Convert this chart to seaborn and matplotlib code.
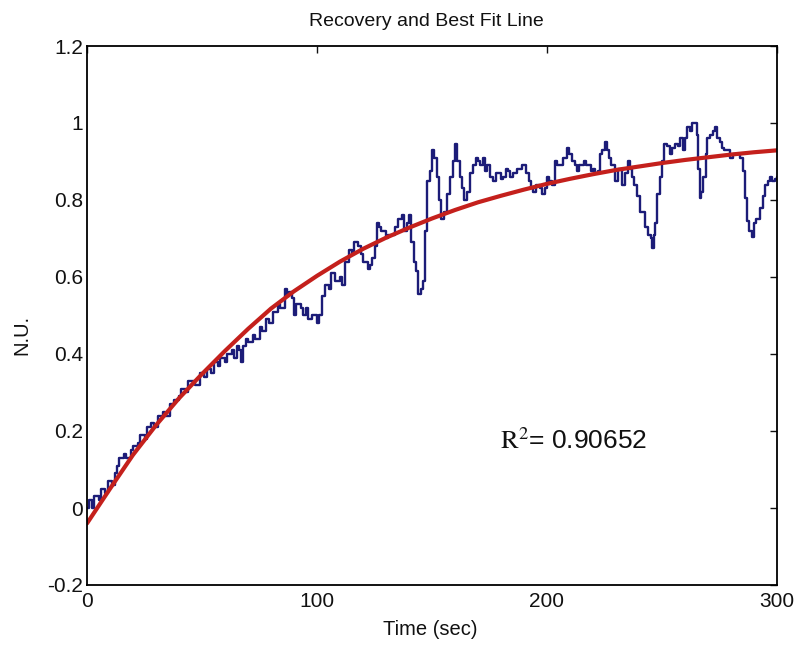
import matplotlib
matplotlib.use("Agg")
import matplotlib.pyplot as plt
import seaborn as sns
import pandas as pd

# ---- data ----
rec_t = [0, 1, 2, 3, 5, 6, 8, 9, 11, 12, 13, 14, 16, 17, 19, 20, 22, 23, 25, 26, 28, 29, 31, 33, 34, 36, 38, 40,
         41, 43, 44, 46, 47, 49, 51, 52, 54, 55, 57, 58, 60, 61, 63, 64, 65, 66, 67, 68, 69, 70, 72, 73, 75, 76,
         78, 79, 81, 83, 84, 86, 87, 88, 89, 90, 91, 93, 94, 95, 96, 98, 100, 101, 102, 103.5, 105, 106, 108, 110,
         111, 112, 114, 115, 116, 118, 119, 120, 122, 123, 124, 125, 126, 127, 128, 130, 131, 133, 134, 135, 137,
         138, 139, 140, 141, 142, 143, 144, 145, 146, 147, 148, 149, 150, 151, 152, 153, 154, 155, 156.5, 158, 159,
         160, 161, 162, 163, 164, 165, 166.5, 168, 169, 170, 171, 172, 173, 174, 175, 176.5, 178, 179, 180, 181,
         182, 183, 184, 185, 187, 188, 189, 190, 191, 192, 193, 194, 195, 196, 197, 198, 199, 200, 201, 202, 203.5,
         204.5, 205.5, 207, 208.5, 209.5, 211, 212, 213, 214, 216, 217, 218, 219, 220, 221, 222, 223, 224, 225, 226,
         227, 228, 229.5, 231, 232.5, 234, 235, 236, 237, 238, 239, 240.5, 242.6, 244, 245, 245.6, 246.5, 247, 248,
         249, 250, 251, 252, 253.5, 254.5, 255.7, 257, 258, 259, 260, 261, 262, 263, 264, 265, 265.8, 266.5, 267,
         268, 269, 269.5, 271, 272, 273, 274, 275, 276, 277, 278, 279.5, 281, 282.6, 284, 285, 286, 287, 288, 289,
         290, 291, 292.6, 294, 294.8, 296, 297, 298, 299, 300]
rec_nu = [0.00, 0.02, 0.00, 0.03, 0.02, 0.05, 0.04, 0.07, 0.06, 0.09, 0.11, 0.13, 0.14, 0.13, 0.15, 0.16, 0.17,
          0.19, 0.18, 0.21, 0.22, 0.21, 0.24, 0.25, 0.24, 0.27, 0.28, 0.29, 0.31, 0.30, 0.33, 0.33, 0.32, 0.35,
          0.34, 0.36, 0.35, 0.38, 0.37, 0.39, 0.38, 0.40, 0.41, 0.39, 0.42, 0.41, 0.38, 0.42, 0.44, 0.43, 0.45,
          0.44, 0.47, 0.46, 0.49, 0.48, 0.51, 0.53, 0.52, 0.57, 0.55, 0.56, 0.545, 0.50, 0.53, 0.52, 0.50, 0.52,
          0.49, 0.50, 0.48, 0.50, 0.55, 0.58, 0.57, 0.61, 0.59, 0.60, 0.58, 0.64, 0.67, 0.66, 0.69, 0.68, 0.66,
          0.64, 0.62, 0.63, 0.65, 0.68, 0.74, 0.73, 0.72, 0.70, 0.71, 0.71, 0.73, 0.75, 0.76, 0.72, 0.74, 0.76,
          0.69, 0.64, 0.615, 0.555, 0.57, 0.59, 0.72, 0.85, 0.875, 0.93, 0.91, 0.86, 0.80, 0.75, 0.77, 0.815, 0.86,
          0.90, 0.945, 0.90, 0.86, 0.83, 0.80, 0.82, 0.87, 0.89, 0.91, 0.90, 0.89, 0.91, 0.875, 0.89, 0.86, 0.85,
          0.87, 0.87, 0.855, 0.86, 0.88, 0.875, 0.86, 0.87, 0.88, 0.88, 0.89, 0.89, 0.87, 0.85, 0.83, 0.82, 0.84,
          0.84, 0.83, 0.815, 0.83, 0.86, 0.85, 0.84, 0.90, 0.89, 0.89, 0.91, 0.935, 0.92, 0.90, 0.89, 0.875, 0.89,
          0.90, 0.89, 0.89, 0.875, 0.88, 0.87, 0.875, 0.92, 0.93, 0.95, 0.93, 0.91, 0.89, 0.85, 0.88, 0.84, 0.87,
          0.90, 0.88, 0.86, 0.84, 0.81, 0.77, 0.73, 0.71, 0.70, 0.675, 0.71, 0.74, 0.815, 0.86, 0.90, 0.945, 0.94,
          0.92, 0.935, 0.945, 0.94, 0.96, 0.93, 0.96, 0.99, 0.98, 1.00, 1.00, 0.97, 0.88, 0.805, 0.82, 0.86, 0.92,
          0.96, 0.97, 0.98, 0.99, 0.96, 0.95, 0.935, 0.93, 0.93, 0.91, 0.92, 0.92, 0.91, 0.875, 0.805, 0.745, 0.72,
          0.705, 0.74, 0.75, 0.78, 0.81, 0.84, 0.85, 0.86, 0.85, 0.855, 0.86]

fit_t = [0, 10, 20, 30, 40, 50, 60, 70, 80, 90, 100, 110, 120, 130, 140, 150, 160, 170, 180, 190, 200,
         210, 220, 230, 240, 250, 260, 270, 280, 290, 300]
fit_nu = [-0.040, 0.050, 0.138, 0.215, 0.285, 0.348, 0.408, 0.465, 0.518, 0.563, 0.603, 0.640, 0.673, 0.702,
          0.728, 0.752, 0.774, 0.794, 0.811, 0.827, 0.842, 0.855, 0.867, 0.878, 0.887, 0.896, 0.904, 0.911,
          0.918, 0.924, 0.929]

x_ticks = [0, 100, 200, 300]
y_ticks = [-0.2, 0, 0.2, 0.4, 0.6, 0.8, 1.0, 1.2]
y_tick_labels = ["-0.2", "0", "0.2", "0.4", "0.6", "0.8", "1", "1.2"]
r2_text = "0.90652"

# ---- drawing ----
sns.set_style("white")
plt.rcParams["font.family"] = ["Liberation Sans", "DejaVu Sans"]
plt.rcParams["mathtext.fontset"] = "stix"

fig = plt.figure(figsize=(7.94, 6.45), dpi=100)
ax = fig.add_axes([87 / 794, 1 - 585 / 645, 690 / 794, 539 / 645])

rec_df = pd.DataFrame({"t": rec_t, "nu": rec_nu})
fit_df = pd.DataFrame({"t": fit_t, "nu": fit_nu})

sns.lineplot(data=rec_df, x="t", y="nu", ax=ax, color="#1c1c78", linewidth=1.7,
             estimator=None, sort=True, drawstyle="steps-post")
sns.lineplot(data=fit_df, x="t", y="nu", ax=ax, color="#c4201c", linewidth=3.0,
             estimator=None, sort=True)

ax.set_xlim(0, 300)
ax.set_ylim(-0.2, 1.2)
ax.set_xticks(x_ticks)
ax.set_xticklabels([str(v) for v in x_ticks])
ax.set_yticks(y_ticks)
ax.set_yticklabels(y_tick_labels)
ax.tick_params(direction="in", length=5, width=1, top=True, right=True,
               labelsize=15, colors="#111111")
ax.tick_params(axis="x", pad=5)
ax.tick_params(axis="y", pad=3)
for s in ax.spines.values():
    s.set_visible(True)
    s.set_color("black")
    s.set_linewidth(1.3)

ax.set_xlabel("Time (sec)", fontsize=14.5, color="#111111")
ax.xaxis.set_label_coords((430 - 87) / 690, (585 - 620) / 539)
ax.set_ylabel("N.U.", fontsize=14.5, color="#111111")
ax.yaxis.set_label_coords((31 - 87) / 690, (585 - 335) / 539)

ax.text((426 - 87) / 690, (585 - 22) / 539, "Recovery and Best Fit Line", transform=ax.transAxes,
        fontsize=14, ha="center", va="center", color="#111111")

ax.text(179.5, 0.174, r"$\mathrm{R}^{2}$= " + r2_text, fontsize=19, color="#111111",
        va="center", ha="left")

fig.savefig("out.png", dpi=100, facecolor="white")
